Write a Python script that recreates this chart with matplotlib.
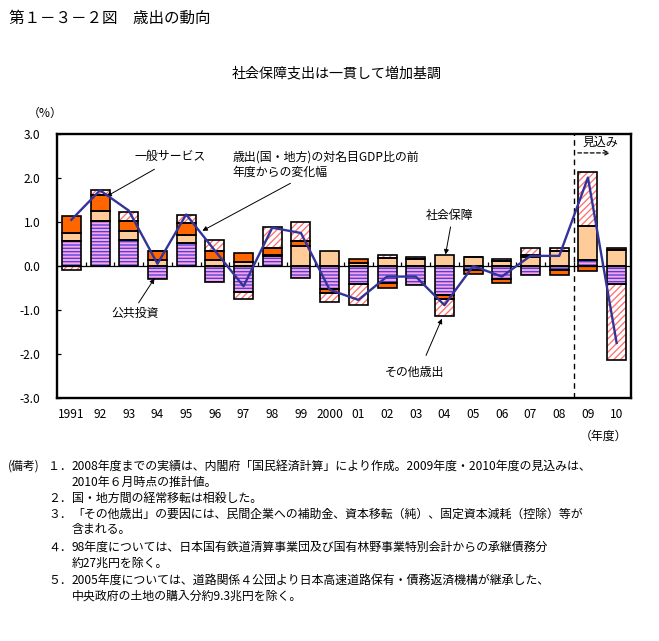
import numpy as np
import matplotlib
matplotlib.use('Agg')
import matplotlib.pyplot as plt

plt.rcParams['font.family'] = ['Noto Sans CJK JP', 'DejaVu Sans']
plt.rcParams['hatch.linewidth'] = 0.95

# ---------------- data ----------------
years = ['1991', '92', '93', '94', '95', '96', '97', '98', '99', '2000',
         '01', '02', '03', '04', '05', '06', '07', '08', '09', '10']
public_inv = [0.56, 1.02, 0.60, -0.30, 0.52, -0.36, -0.60, 0.22, -0.28, -0.52,
              -0.41, -0.39, -0.43, -0.66, -0.10, -0.30, -0.21, -0.10, 0.13, -0.42]
social_sec = [0.18, 0.24, 0.20, 0.14, 0.18, 0.14, 0.10, 0.03, 0.46, 0.33,
              0.06, 0.18, 0.17, 0.24, 0.20, 0.11, 0.20, 0.34, 0.78, 0.36]
general_srv = [0.40, 0.35, 0.22, 0.19, 0.27, 0.20, 0.19, 0.17, 0.11, -0.10,
               0.10, -0.12, 0.00, -0.10, -0.09, -0.09, 0.05, -0.10, -0.11, 0.04]
other_exp = [-0.10, 0.12, 0.21, 0.00, 0.20, 0.24, -0.16, 0.46, 0.43, -0.20,
             -0.48, 0.06, 0.04, -0.38, 0.00, 0.04, 0.17, 0.06, 1.22, -1.72]
total_chg = [1.05, 1.72, 1.26, 0.05, 1.17, 0.35, -0.46, 0.87, 0.75, -0.54,
             -0.77, -0.24, -0.24, -0.89, 0.00, -0.24, 0.23, 0.23, 2.01, -1.75]

yticks = [3.0, 2.0, 1.0, 0.0, -1.0, -2.0, -3.0]

W, H = 659, 641
fig = plt.figure(figsize=(W / 100, H / 100), dpi=100)


def fx(px):
    return px / W


def fy(py):
    return 1 - py / H


ax = fig.add_axes([fx(57), fy(398), (631 - 57) / W, (398 - 134) / H])
n = len(years)
x = np.arange(n)
bw = 0.66

comps = [
    (public_inv, '#FFA0E0', '#4444E0', '-----'),
    (social_sec, '#FFCC99', None, None),
    (general_srv, '#FF6600', None, None),
    (other_exp, 'white', '#FF7070', '/////'),
]
pos_base = np.zeros(n)
neg_base = np.zeros(n)
for vals, fc, hc, hatch in comps:
    v = np.array(vals, dtype=float)
    base = np.where(v >= 0, pos_base, neg_base)
    ax.bar(x, v, bw, bottom=base, color=fc, edgecolor=hc if hc else fc,
           hatch=hatch, linewidth=0, zorder=2)
    ax.bar(x, v, bw, bottom=base, fill=False, edgecolor='black',
           linewidth=1.2, zorder=3)
    pos_base += np.where(v > 0, v, 0)
    neg_base += np.where(v < 0, v, 0)

ax.axhline(0, color='black', lw=0.9, zorder=3)
# small upward ticks on the zero line between categories
ax.vlines(x[:-1] + 0.5, 0, 0.09, color='black', lw=0.9, zorder=3)

ax.plot(x, total_chg, color='#333399', lw=1.7, zorder=5)

ax.set_xlim(-0.5, n - 0.5)
ax.set_ylim(-3, 3)
ax.set_yticks(yticks)
ax.set_yticklabels([f'{t:.1f}' for t in yticks], fontsize=8.6)
ax.tick_params(axis='y', direction='in', length=3, width=0.9, pad=12)
ax.set_xticks(x)
ax.set_xticklabels(years, fontsize=8.6)
ax.tick_params(axis='x', length=0, pad=7)
for s in ax.spines.values():
    s.set_linewidth(1.7)

# forecast divider
ax.axvline(17.5, color='black', lw=1.0, ls=(0, (4, 3)), zorder=4)
ax.annotate('', xy=(18.87, 2.57), xytext=(17.55, 2.57),
            arrowprops=dict(arrowstyle='->', lw=0.9, ls=(0, (3, 2)),
                            color='black', mutation_scale=9))
ax.text(18.42, 2.80, '見込み', ha='center', va='center', fontsize=8.6)

# annotations
arr = dict(arrowstyle='-|>', lw=0.7, color='black', mutation_scale=7)
ax.text(3.44, 2.48, '一般サービス', ha='center', va='center', fontsize=8.6)
ax.annotate('', xy=(1.14, 1.55), xytext=(2.98, 2.23), arrowprops=arr)
ax.text(5.63, 2.31, '歳出(国・地方)の対名目GDP比の前\n年度からの変化幅', ha='left',
        va='center', fontsize=8.6, linespacing=1.25)
ax.annotate('', xy=(4.48, 0.77), xytext=(7.72, 1.91), arrowprops=arr)
ax.text(13.19, 1.14, '社会保障', ha='center', va='center', fontsize=8.6)
ax.annotate('', xy=(13.02, 0.20), xytext=(13.23, 0.95), arrowprops=arr)
ax.text(2.22, -1.07, '公共投資', ha='center', va='center', fontsize=8.6)
ax.annotate('', xy=(2.95, -0.23), xytext=(2.29, -0.89), arrowprops=arr)
ax.text(11.94, -2.41, 'その他歳出', ha='center', va='center', fontsize=8.6)
ax.annotate('', xy=(12.95, -1.14), xytext=(12.32, -2.09), arrowprops=arr)

# titles and labels
fig.text(fx(9), fy(18), '第１－３－２図　歳出の動向', ha='left', va='center', fontsize=11.2)
fig.text(fx(337), fy(73), '社会保障支出は一貫して増加基調', ha='center', va='center', fontsize=10.1)
fig.text(fx(45), fy(113), '（%）', ha='center', va='center', fontsize=8.6)
fig.text(fx(603), fy(436), '（年度）', ha='center', va='center', fontsize=8.6)

notes = [
    (466, '(備考)', '１．', '2008年度までの実績は、内閣府「国民経済計算」により作成。2009年度・2010年度の見込みは、'),
    (482, None, None, '2010年６月時点の推計値。'),
    (498, None, '２．', '国・地方間の経常移転は相殺した。'),
    (514, None, '３．', '「その他歳出」の要因には、民間企業への補助金、資本移転（純）、固定資本減耗（控除）等が'),
    (530, None, None, '含まれる。'),
    (547, None, '４．', '98年度については、日本国有鉄道清算事業団及び国有林野事業特別会計からの承継債務分'),
    (563, None, None, '約27兆円を除く。'),
    (580, None, '５．', '2005年度については、道路関係４公団より日本高速道路保有・債務返済機構が継承した、'),
    (596, None, None, '中央政府の土地の購入分約9.3兆円を除く。'),
]
for y, head, num, body in notes:
    if head:
        fig.text(fx(8), fy(y), head, ha='left', va='center', fontsize=8.6)
    if num:
        fig.text(fx(48), fy(y), num, ha='left', va='center', fontsize=8.6)
    fig.text(fx(72), fy(y), body, ha='left', va='center', fontsize=8.6)

fig.savefig('out.png', dpi=100)
